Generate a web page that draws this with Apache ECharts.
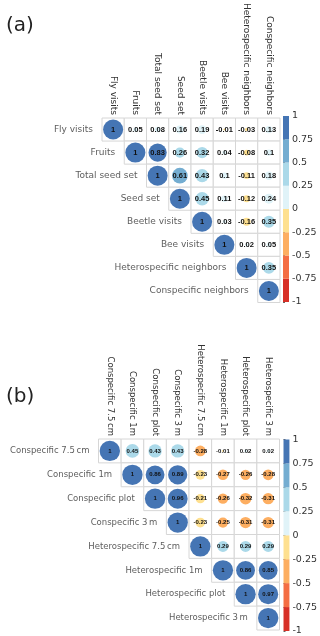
<!DOCTYPE html>
<html>
<head>
<meta charset="utf-8">
<script src="https://cdn.jsdelivr.net/npm/echarts@6/dist/echarts.min.js"></script>
<style>
  html, body { margin: 0; padding: 0; background: #fff; }
  #main { width: 320px; height: 636px; }
</style>
</head>
<body>
<div id="main"></div>
<script>
// panel (a) variables and upper-triangle rows (each row starts at the diagonal)
var varsA = ['Fly visits', 'Fruits', 'Total seed set', 'Seed set', 'Beetle visits',
  'Bee visits', 'Heterospecific neighbors', 'Conspecific neighbors'];
var rowsA = [
  [1, 0.05, 0.08, 0.16, 0.19, -0.01, -0.03, 0.13],
  [1, 0.83, 0.26, 0.32, 0.04, -0.08, 0.1],
  [1, 0.61, 0.43, 0.1, -0.11, 0.18],
  [1, 0.45, 0.11, -0.12, 0.24],
  [1, 0.03, -0.16, 0.35],
  [1, 0.02, 0.05],
  [1, 0.35],
  [1]
];

// panel (b)
var varsB = ['Conspecific 7.5\u2009cm', 'Conspecific 1m', 'Conspecific plot', 'Conspecific 3\u2009m',
  'Heterospecific 7.5\u2009cm', 'Heterospecific 1m', 'Heterospecific plot', 'Heterospecific 3\u2009m'];
var rowsB = [
  [1, 0.45, 0.43, 0.43, -0.28, -0.01, 0.02, 0.02],
  [1, 0.86, 0.89, -0.23, -0.27, -0.26, -0.28],
  [1, 0.96, -0.21, -0.26, -0.32, -0.31],
  [1, -0.23, -0.25, -0.31, -0.31],
  [1, 0.29, 0.29, 0.29],
  [1, 0.86, 0.85],
  [1, 0.97],
  [1]
];

// colour legend bins, from -1 up to 1
var barBreaks = [-1, -0.75, -0.5, -0.25, 0, 0.25, 0.5, 0.75, 1];
var barColors = ['#D73027', '#F46D43', '#FDAE61', '#FEE090', '#E0F3F8', '#ABD9E9', '#74ADD1', '#4575B4'];

var FONT = 'DejaVu Sans';

function binColor(v) {
  var idx = Math.ceil((v + 1) / 0.25) - 1;
  idx = Math.max(0, Math.min(barColors.length - 1, idx));
  return barColors[idx];
}

function toCells(rows) {
  var out = [];
  rows.forEach(function (row, i) {
    row.forEach(function (v, k) {
      out.push([i + k, i, v]);
    });
  });
  return out;
}

var barData = [];
for (var b = 0; b < barColors.length; b++) {
  barData.push([barBreaks[b], barBreaks[b + 1], b]);
}

// one correlation panel = grid for the matrix + grid for the colour bar
function panel(vars, rows, gi, cellW, labelSize, numSize) {
  var cells = toCells(rows);
  var xi = gi, yi = gi;
  return [
    {
      type: 'custom', xAxisIndex: xi, yAxisIndex: yi, silent: true, z: 1,
      data: cells,
      renderItem: function (params, api) {
        var c = api.coord([api.value(0), api.value(1)]);
        var s = api.size([1, 1]);
        return {
          type: 'rect',
          shape: { x: c[0] - s[0] / 2, y: c[1] - s[1] / 2, width: s[0], height: s[1] },
          style: { fill: '#fff', stroke: '#d6d6d6', lineWidth: 1 }
        };
      }
    },
    {
      type: 'scatter', xAxisIndex: xi, yAxisIndex: yi, silent: true, z: 2,
      data: cells,
      symbol: 'circle',
      symbolSize: function (v) { return 0.9 * cellW * Math.sqrt(Math.abs(v[2])); },
      itemStyle: { color: function (p) { return binColor(p.value[2]); }, opacity: 1 },
      label: {
        show: true, position: 'inside',
        formatter: function (p) { return String(p.value[2]); },
        fontFamily: 'Liberation Sans', fontWeight: 'bold', fontSize: numSize, color: '#111'
      }
    },
    {
      // staircase row labels, left of each diagonal cell
      type: 'scatter', xAxisIndex: xi, yAxisIndex: yi, silent: true, z: 3,
      data: vars.map(function (n, i) { return [i, i, n]; }),
      symbolSize: [cellW, cellW],
      itemStyle: { color: 'rgba(0,0,0,0)' },
      label: {
        show: true, position: 'left', distance: 9,
        formatter: function (p) { return p.value[2]; },
        fontFamily: FONT, fontSize: labelSize, color: '#333'
      }
    },
    {
      type: 'custom', xAxisIndex: gi + 1, yAxisIndex: gi + 1, silent: true,
      data: barData,
      renderItem: function (params, api) {
        var p1 = api.coord([0, api.value(1)]);
        var p2 = api.coord([1, api.value(0)]);
        return {
          type: 'rect',
          shape: { x: p1[0], y: p1[1], width: p2[0] - p1[0], height: p2[1] - p1[1] },
          style: { fill: barColors[api.value(2)] }
        };
      }
    }
  ];
}

function axes(vars, gi, labelSize) {
  return {
    x: [
      {
        gridIndex: gi, type: 'category', data: vars, position: 'top',
        axisLine: { show: false }, axisTick: { show: false }, splitLine: { show: false },
        axisLabel: { rotate: 90, margin: 3, interval: 0, fontFamily: FONT, fontSize: labelSize, color: '#333' }
      },
      { gridIndex: gi + 1, type: 'value', min: 0, max: 1, show: false }
    ],
    y: [
      {
        gridIndex: gi, type: 'category', data: vars, inverse: true, show: false
      },
      {
        gridIndex: gi + 1, type: 'value', min: -1, max: 1, interval: 0.25, position: 'right',
        axisLine: { show: false }, splitLine: { show: false },
        axisTick: { show: true, length: 2, lineStyle: { color: '#666' } },
        axisLabel: { margin: 3, fontFamily: FONT, fontSize: 9.5, color: '#333' }
      }
    ]
  };
}

var axA = axes(varsA, 0, 9);
var axB = axes(varsB, 2, 8.5);

var chart = echarts.init(document.getElementById('main'));
chart.setOption({
  animation: false,
  backgroundColor: '#fff',
  title: [
    { text: '(a)', left: 1, top: 11, textStyle: { fontFamily: FONT, fontSize: 20, fontWeight: 'normal', color: '#222' } },
    { text: '(b)', left: 1, top: 382, textStyle: { fontFamily: FONT, fontSize: 20, fontWeight: 'normal', color: '#222' } }
  ],
  grid: [
    { left: 102, top: 115.5, width: 178, height: 187 },
    { left: 283, top: 116, width: 6, height: 186 },
    { left: 98.5, top: 439, width: 181, height: 191 },
    { left: 283.5, top: 439.5, width: 6, height: 192 }
  ],
  xAxis: axA.x.concat(axB.x),
  yAxis: axA.y.concat(axB.y),
  series: panel(varsA, rowsA, 0, 22.25, 9, 7.5).concat(panel(varsB, rowsB, 2, 22.6, 8.5, 6))
});
</script>
</body>
</html>
